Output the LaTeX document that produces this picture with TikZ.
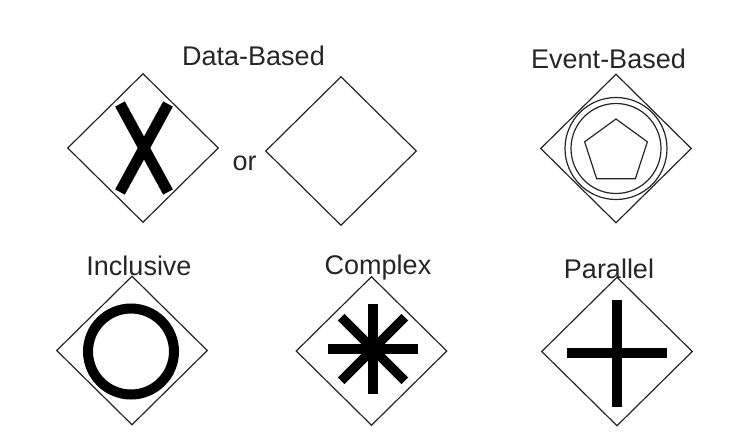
\documentclass[tikz,border=0pt]{standalone}
\usepackage{fontspec}
\setmainfont{Liberation Sans}
\usetikzlibrary{shapes.geometric}
\begin{document}
\begin{tikzpicture}[x=1pt, y=-1pt,
  gateway/.style={diamond, draw=black!85, line width=1.2pt, inner sep=0pt, minimum width=151pt, minimum height=149pt},
  bar/.style={line width=9.5pt, black},
  thin ring/.style={draw=black!85, line width=1.2pt},
  caption/.style={font=\fontsize{27}{32}\selectfont, anchor=base, inner sep=0pt, text=black!85}]
\useasboundingbox (0,0) rectangle (746,439);
% gateways
\node[gateway] (xor) at (143,148) {};
\node[gateway] (plain) at (341,151) {};
\node[gateway] (evt) at (616,148.5) {};
\node[gateway] (incl) at (132,350.5) {};
\node[gateway] (cplx) at (371.5,351) {};
\node[gateway] (par) at (617,351.5) {};
% captions
\node[caption] (lbldata) at (253.5,65) {Data-Based};
\node[caption] (lblor) at (244.5,170) {or};
\node[caption] (lblevt) at (608.5,68) {Event-Based};
\node[caption] (lblincl) at (139,275) {Inclusive};
\node[caption] (lblcplx) at (378,274) {Complex};
\node[caption] (lblpar) at (609,278) {Parallel};
% markers
\coordinate (xmid) at (144,148);
\draw[bar, line width=11pt] ([shift={(-24,-44)}]xmid) -- ([shift={(24,44)}]xmid);
\draw[bar, line width=11pt] ([shift={(24,-44)}]xmid) -- ([shift={(-24,44)}]xmid);
\draw[thin ring] (evt.center) circle (51);
\draw[thin ring] (evt.center) circle (45);
\node[regular polygon, regular polygon sides=5, thin ring, inner sep=0pt, minimum size=66pt] (pent) at (616,152) {};
\draw[bar, line width=10pt] (131,351.5) circle (43);
\coordinate (smid) at (373,349);
\foreach \a in {0,45,90,135}
  \draw[bar] ([shift={(\a:45)}]smid) -- ([shift={(\a+180:45)}]smid);
\coordinate (pmid) at (617,353);
\draw[bar] ([shift={(0,-53.5)}]pmid) -- ([shift={(0,53.5)}]pmid);
\draw[bar] ([shift={(-50,0)}]pmid) -- ([shift={(50,0)}]pmid);
\end{tikzpicture}
\end{document}
